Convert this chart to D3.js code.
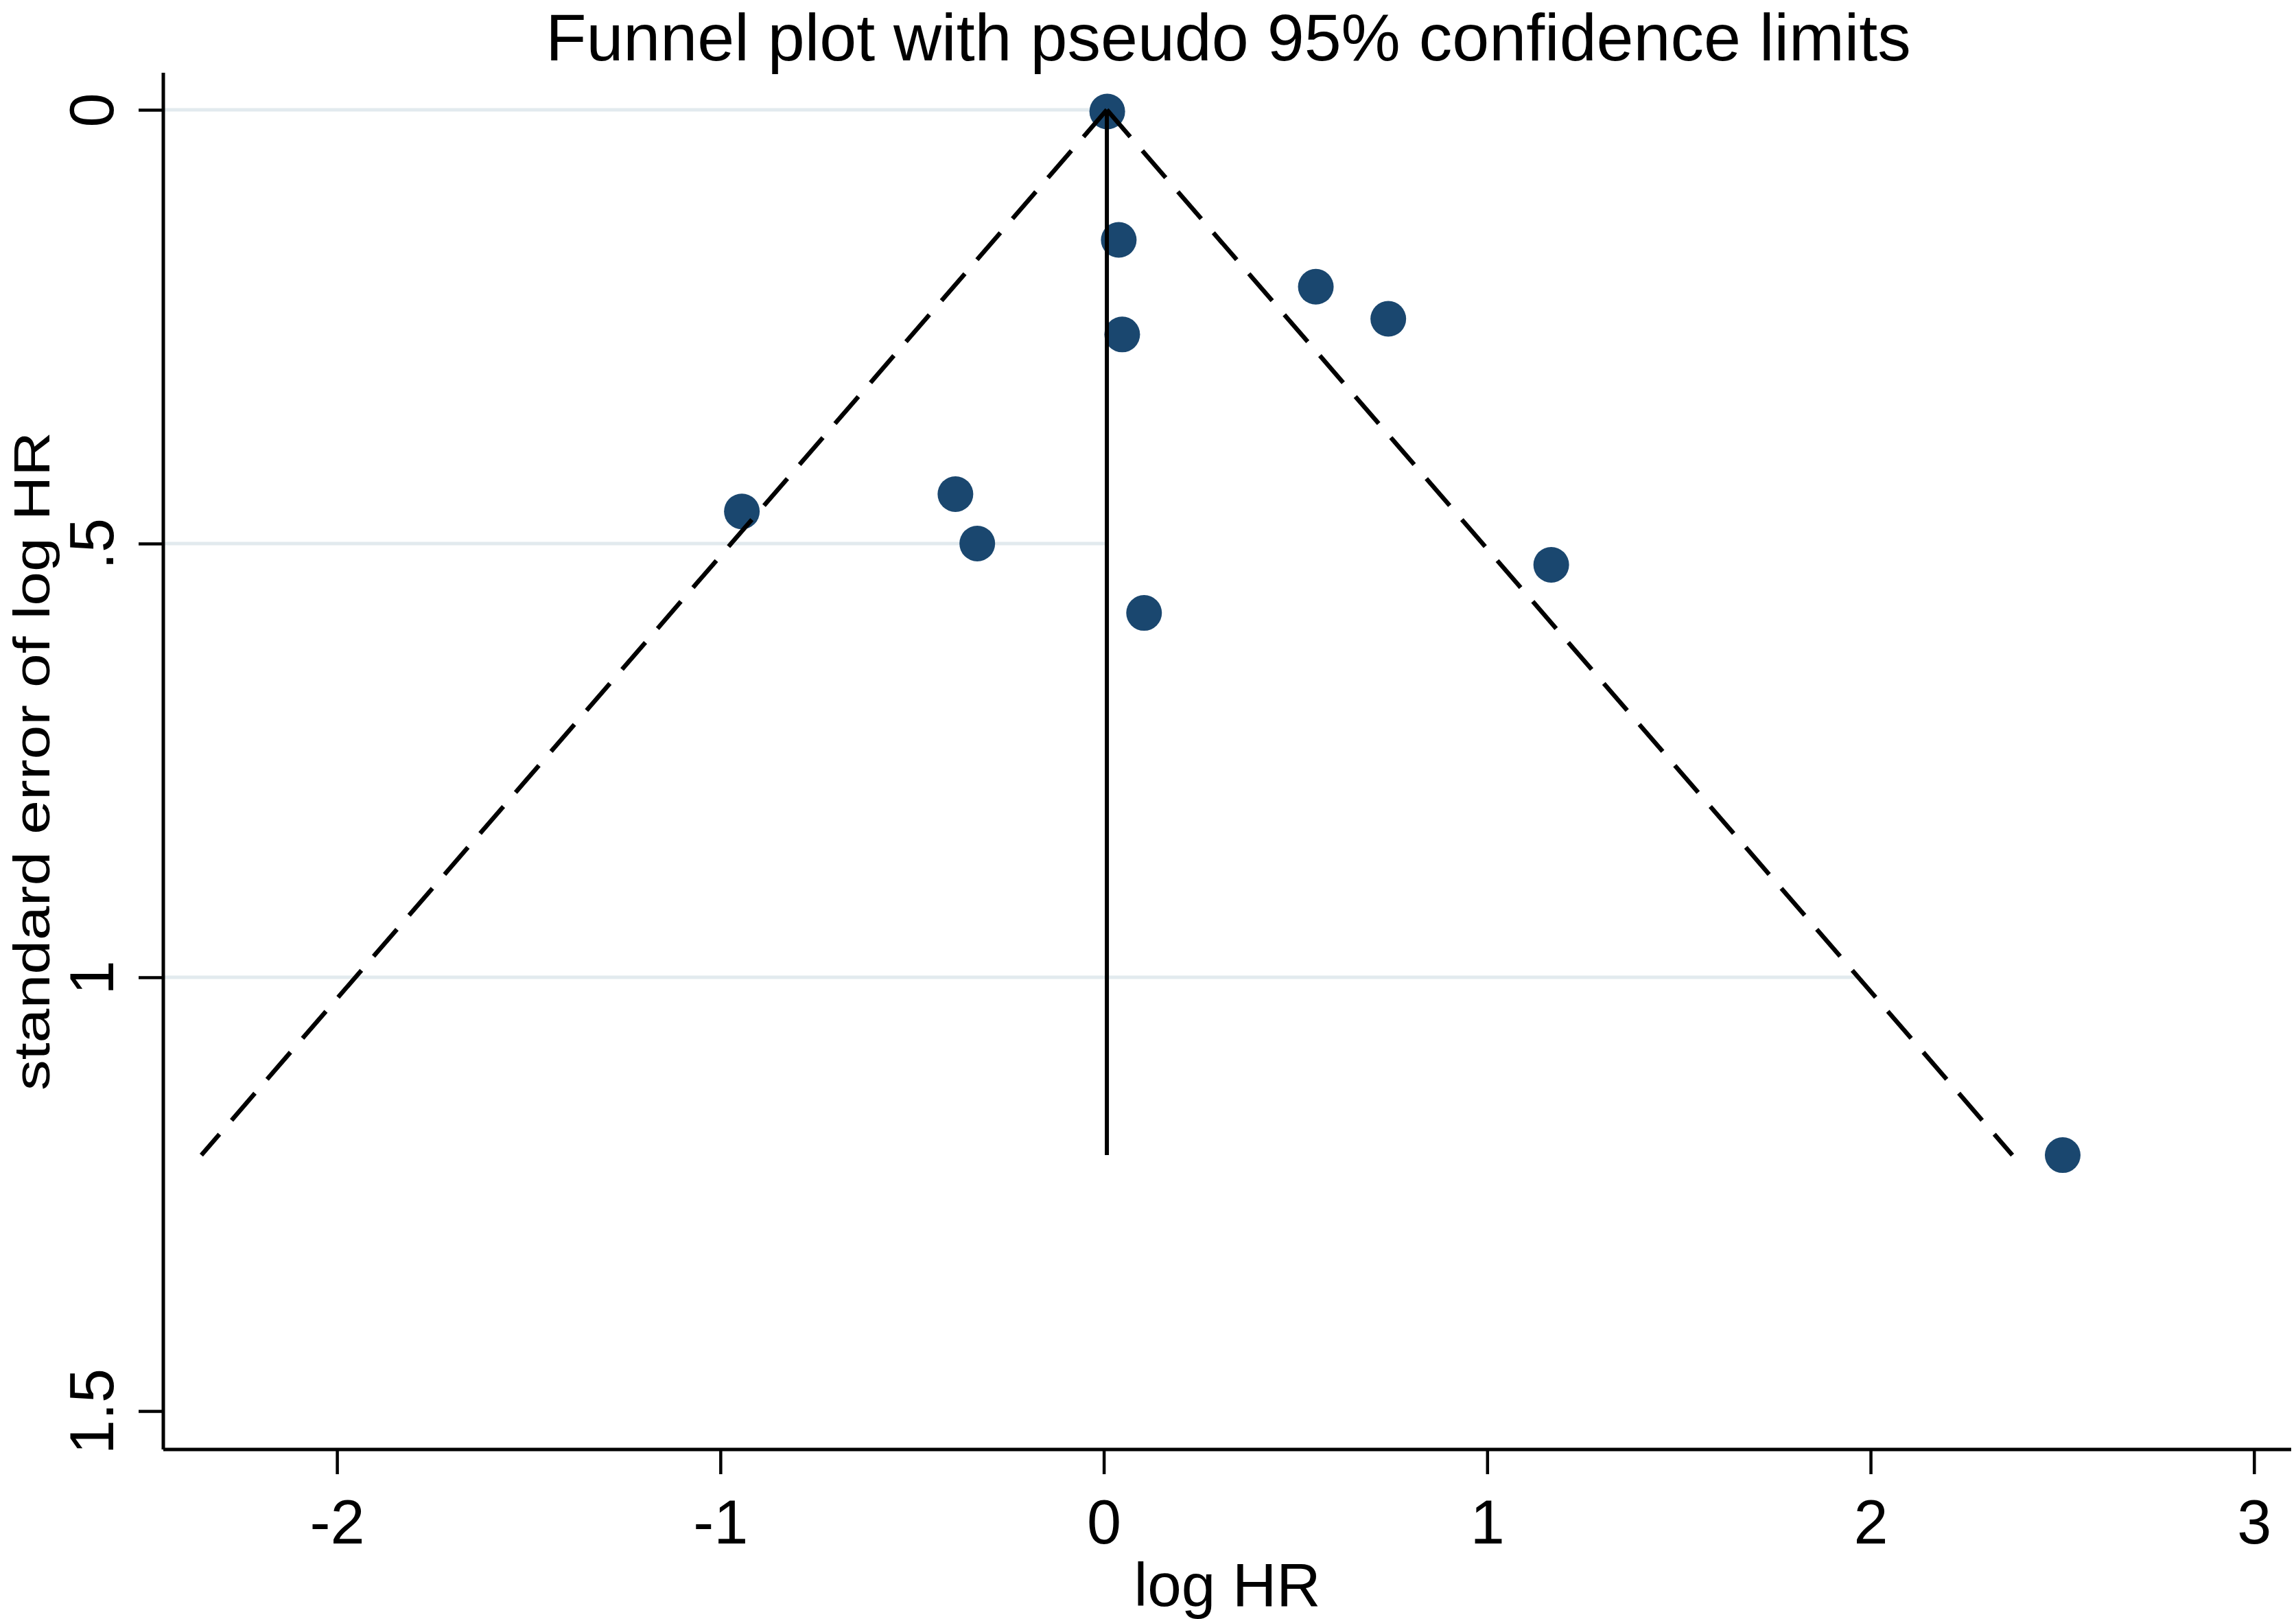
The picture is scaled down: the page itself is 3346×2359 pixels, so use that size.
<!DOCTYPE html>
<html>
<head>
<meta charset="utf-8">
<script src="https://cdn.jsdelivr.net/npm/d3@7"></script>
<style>
  html, body { margin: 0; padding: 0; background: #ffffff; }
  svg { display: block; }
  text { font-family: "Liberation Sans", Arial, sans-serif; fill: #000; }
</style>
</head>
<body>
<svg id="chart" width="3346" height="2359"></svg>
<script>
// ---- data ----
const logHR = [0.009, 0.039, 0.048, 0.553, 0.742, -0.944, -0.387, -0.330, 0.105, 1.167, 2.501];
const seLogHR = [0.002, 0.150, 0.259, 0.204, 0.241, 0.463, 0.443, 0.500, 0.580, 0.5245, 1.205];
const pooled = 0.008;
const zCrit = 1.96;
const xTicks = [-2, -1, 0, 1, 2, 3];
const yTicks = [0, 0.5, 1, 1.5];
const yTickLabels = ["0", ".5", "1", "1.5"];
const gridSE = [0, 0.5, 1];
const gridEndLogHR = [pooled, pooled, pooled + zCrit * 1];
const titleText = "Funnel plot with pseudo 95% confidence limits";
const xTitle = "log HR";
const yTitle = "standard error of log HR";

// ---- layout ----
(function () {
const svg = d3.select("#chart");
const pLeft = 238, pRight = 3339, pTop = 106, pBottom = 2112;
const x = d3.scaleLinear().domain([-2.453, 3.097]).range([pLeft, pRight]);
const y = d3.scaleLinear().domain([-0.0427, 1.5443]).range([pTop, pBottom]);
const seMax = d3.max(seLogHR);

// gridlines
svg.append("g").selectAll("line").data(gridSE).join("line")
  .attr("x1", pLeft + 2)
  .attr("x2", (d, i) => x(gridEndLogHR[i]))
  .attr("y1", d => y(d)).attr("y2", d => y(d))
  .attr("stroke", "#e2eaee").attr("stroke-width", 5);

// points
svg.append("g").selectAll("circle").data(logHR).join("circle")
  .attr("cx", d => x(d))
  .attr("cy", (d, i) => y(seLogHR[i]))
  .attr("r", 26)
  .attr("fill", "#1a476f");

// pseudo 95% limits
const line = d3.line().x(d => x(d[0])).y(d => y(d[1]));
[-1, 1].forEach(s => {
  svg.append("path")
    .attr("d", line([[pooled, 0], [pooled + s * zCrit * seMax, seMax]]))
    .attr("fill", "none").attr("stroke", "#000").attr("stroke-width", 6.5)
    .attr("stroke-dasharray", "52,27");
});
// pooled estimate line
svg.append("path")
  .attr("d", line([[pooled, 0], [pooled, seMax]]))
  .attr("fill", "none").attr("stroke", "#000").attr("stroke-width", 6);

// x axis
const gx = svg.append("g").attr("transform", `translate(0,${pBottom})`)
  .call(d3.axisBottom(x).tickValues(xTicks).tickFormat(d3.format("d"))
    .tickSize(36).tickSizeOuter(0).tickPadding(37));
gx.select(".domain").attr("d", `M${pLeft},0H${pRight}`).attr("stroke", "#000").attr("stroke-width", 5);
gx.selectAll(".tick line").attr("stroke", "#000").attr("stroke-width", 4.5);
gx.selectAll(".tick text").attr("font-size", 90).attr("font-family", "Liberation Sans, Arial, sans-serif")
  .text(d => d < 0 ? "-" + Math.abs(d) : String(d));

// y axis
const gy = svg.append("g").attr("transform", `translate(${pLeft},0)`)
  .call(d3.axisLeft(y).tickValues(yTicks).tickFormat((d, i) => yTickLabels[i])
    .tickSize(36).tickSizeOuter(0));
gy.select(".domain").attr("d", `M0,${pTop}V${pBottom}`).attr("stroke", "#000").attr("stroke-width", 5);
gy.selectAll(".tick line").attr("stroke", "#000").attr("stroke-width", 4.5);
gy.selectAll(".tick text")
  .attr("x", 0).attr("y", 0).attr("dy", 0)
  .attr("text-anchor", "middle")
  .attr("transform", `translate(${165 - pLeft},0) rotate(-90)`)
  .attr("font-size", 90).attr("font-family", "Liberation Sans, Arial, sans-serif");

// titles
svg.append("text").attr("x", 1790).attr("y", 88).attr("text-anchor", "middle")
  .attr("font-size", 97).text(titleText);
svg.append("text").attr("x", (pLeft + pRight) / 2).attr("y", 2340).attr("text-anchor", "middle")
  .attr("font-size", 89).text(xTitle);
svg.append("text")
  .attr("transform", `translate(72,${(pTop + pBottom) / 2}) rotate(-90)`)
  .attr("text-anchor", "middle")
  .attr("font-size", 74)
  .attr("textLength", 960).attr("lengthAdjust", "spacingAndGlyphs")
  .text(yTitle);
})();
</script>
</body>
</html>
